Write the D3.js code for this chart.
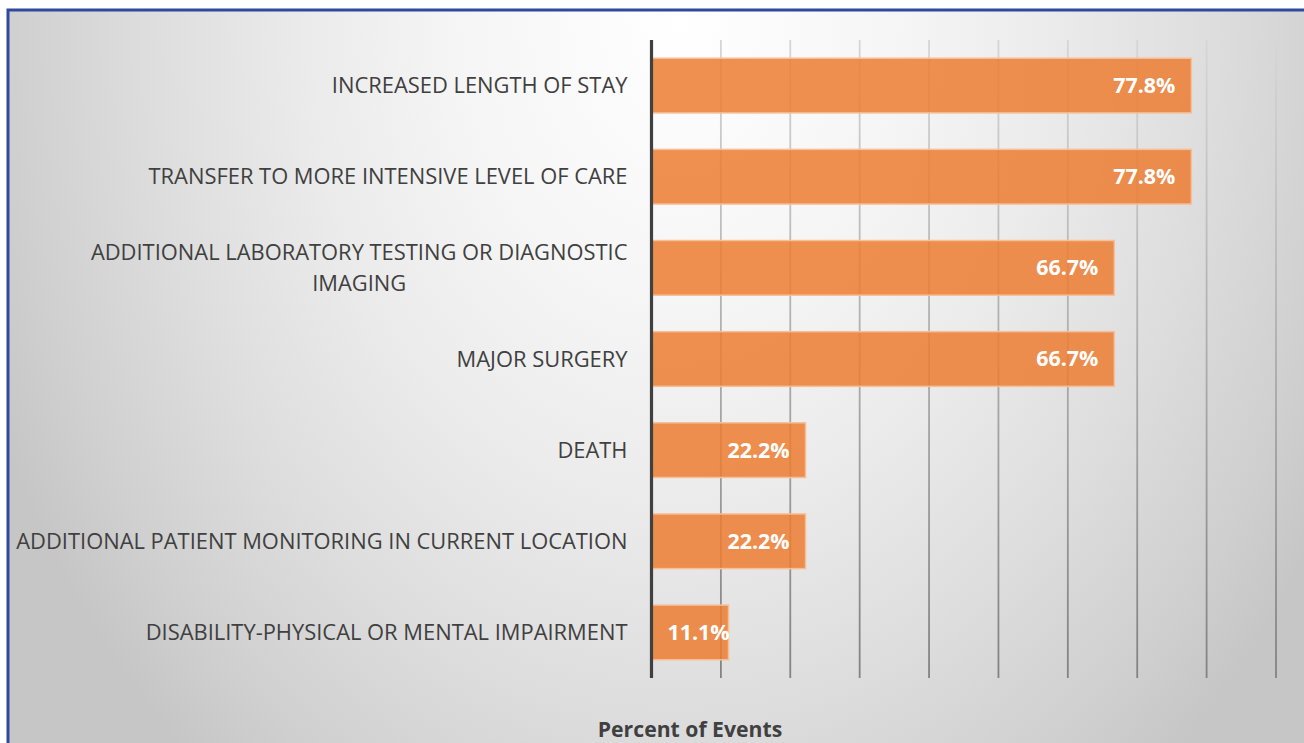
<!DOCTYPE html>
<html>
<head>
<meta charset="utf-8">
<script src="https://cdn.jsdelivr.net/npm/d3@7"></script>
<style>
  html, body { margin: 0; padding: 0; background: #fff; }
  svg { display: block; }
</style>
</head>
<body>
<div id="chart"></div>
<script>
// categories top to bottom, "\n" marks where Excel wrapped the label
const categories = [
    "INCREASED LENGTH OF STAY",
    "TRANSFER TO MORE INTENSIVE LEVEL OF CARE",
    "ADDITIONAL LABORATORY TESTING OR DIAGNOSTIC\nIMAGING",
    "MAJOR SURGERY",
    "DEATH",
    "ADDITIONAL PATIENT MONITORING IN CURRENT LOCATION",
    "DISABILITY-PHYSICAL OR MENTAL IMPAIRMENT"
];
const values = [77.8, 77.8, 66.7, 66.7, 22.2, 22.2, 11.1];
const gridTicks = [10, 20, 30, 40, 50, 60, 70, 80, 90];
const axisTitle = "Percent of Events";

const width = 1304, height = 743;
const margin = {top: 40, bottom: 65, left: 651.5, right: 28};
const font = "'Open Sans', 'DejaVu Sans', sans-serif";

const svg = d3.select("#chart")
    .append("svg")
    .attr("width", width)
    .attr("height", height);

const defs = svg.append("defs");

// background: soft radial grey with a bright spot near the top middle
const bg = defs.append("radialGradient")
    .attr("id", "bg")
    .attr("gradientUnits", "userSpaceOnUse")
    .attr("cx", 680).attr("cy", 20).attr("r", 750)
    .attr("gradientTransform", "translate(680,20) scale(1,1.3) translate(-680,-20)");
bg.append("stop").attr("offset", 0).attr("stop-color", "#ffffff");
bg.append("stop").attr("offset", 0.3).attr("stop-color", "#f5f5f5");
bg.append("stop").attr("offset", 0.5).attr("stop-color", "#ebebeb");
bg.append("stop").attr("offset", 0.7).attr("stop-color", "#dedede");
bg.append("stop").attr("offset", 0.9).attr("stop-color", "#cfcfcf");
bg.append("stop").attr("offset", 1).attr("stop-color", "#c6c6c6");

// gridlines get darker towards the bottom
const gridGrad = defs.append("linearGradient")
    .attr("id", "gridGrad")
    .attr("gradientUnits", "userSpaceOnUse")
    .attr("x1", 0).attr("y1", margin.top)
    .attr("x2", 0).attr("y2", height - margin.bottom);
gridGrad.append("stop").attr("offset", 0).attr("stop-color", "#d6d6d6");
gridGrad.append("stop").attr("offset", 1).attr("stop-color", "#828282");

svg.append("rect")
    .attr("x", 8).attr("y", 10)
    .attr("width", width + 50).attr("height", height + 50)
    .attr("fill", "url(#bg)")
    .attr("stroke", "#2f4a9c")
    .attr("stroke-width", 3);

// scales
const x = d3.scaleLinear()
    .domain([0, 90])
    .range([margin.left, width - margin.right]);
const y = d3.scaleBand()
    .domain(categories)
    .range([margin.top, height - margin.bottom])
    .paddingInner(0.4)
    .paddingOuter(0.2);

// gridlines
svg.append("g")
    .selectAll("line")
    .data(gridTicks)
    .join("line")
    .attr("x1", d => x(d)).attr("x2", d => x(d))
    .attr("y1", margin.top).attr("y2", height - margin.bottom)
    .attr("stroke", "url(#gridGrad)")
    .attr("stroke-width", 1.8);

// bars
svg.append("g")
    .selectAll("rect")
    .data(values)
    .join("rect")
    .attr("x", x(0))
    .attr("y", (d, i) => y(categories[i]))
    .attr("width", d => x(d) - x(0))
    .attr("height", y.bandwidth())
    .attr("fill", "#ed7d31")
    .attr("fill-opacity", 0.85)
    .attr("stroke", "#f6bf98")
    .attr("stroke-width", 1.5);

// vertical axis line
svg.append("line")
    .attr("x1", x(0)).attr("x2", x(0))
    .attr("y1", margin.top).attr("y2", height - margin.bottom)
    .attr("stroke", "#404040")
    .attr("stroke-width", 3.2);

// category labels, right aligned; wrapped lines centred on each other
const labelRight = x(0) - 24;
const lineH = 31;
categories.forEach(c => {
    const lines = c.split("\n");
    const cy = y(c) + y.bandwidth() / 2;
    const g = svg.append("g");
    const texts = lines.map((ln, j) => g.append("text")
        .attr("y", cy + (j - (lines.length - 1) / 2) * lineH)
        .attr("dy", "0.35em")
        .attr("font-family", font)
        .attr("font-size", 21.9)
        .attr("fill", "#404040")
        .text(ln));
    const widest = d3.max(texts, t => t.node().getComputedTextLength());
    texts.forEach(t => t.attr("text-anchor", "middle").attr("x", labelRight - widest / 2));
});

// value labels
svg.append("g")
    .selectAll("text")
    .data(values)
    .join("text")
    .attr("y", (d, i) => y(categories[i]) + y.bandwidth() / 2)
    .attr("dy", "0.35em")
    .attr("font-family", font)
    .attr("font-size", 21.4)
    .attr("font-weight", "bold")
    .attr("fill", "#ffffff")
    .text(d => d.toFixed(1) + "%")
    .each(function(d) {
        const w = this.getComputedTextLength();
        const start = Math.max(x(d) - 16 - w, x(0) + 16);
        d3.select(this).attr("x", start);
    });

// axis title
svg.append("text")
    .attr("x", 690)
    .attr("y", 737)
    .attr("text-anchor", "middle")
    .attr("font-family", font)
    .attr("font-size", 21.2)
    .attr("font-weight", "bold")
    .attr("fill", "#404040")
    .text(axisTitle);
</script>
</body>
</html>
